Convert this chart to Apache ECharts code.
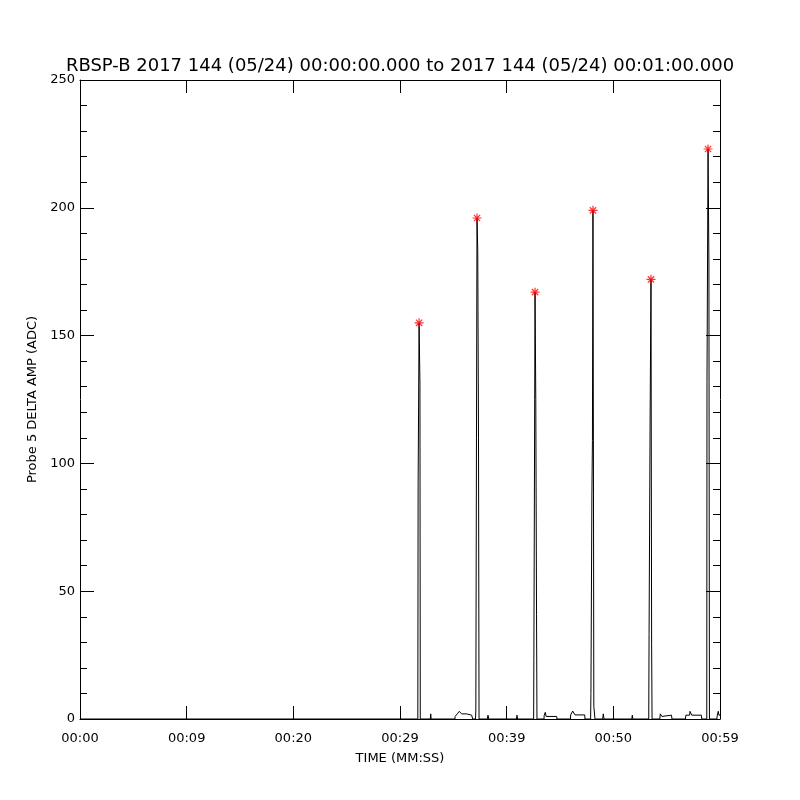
<!DOCTYPE html>
<html>
<head>
<meta charset="utf-8">
<script src="https://cdn.jsdelivr.net/npm/echarts@6/dist/echarts.min.js"></script>
<style>
html,body{margin:0;padding:0;background:#fff;}
#chart{width:800px;height:800px;}
</style>
</head>
<body>
<div id="chart"></div>
<script>
// time in seconds from 00:00:00, amplitude in ADC
const probeTime = [
  0, 31.67, 31.70, 31.79, 31.87, 31.90,
  32.84, 32.88, 32.92,
  35.15, 35.17, 35.37, 35.56, 35.78, 36.25, 36.41, 36.72, 36.81,
  37.08, 37.11, 37.22, 37.29, 37.36, 37.41,
  38.18, 38.25, 38.32,
  40.92, 40.97, 41.02,
  42.53, 42.55, 42.66, 42.73, 42.80, 42.84,
  43.50, 43.52, 43.62, 43.70, 44.69, 44.72,
  45.98, 46.00, 46.19, 46.41, 47.32, 47.34,
  47.87, 47.90, 47.99, 48.04, 48.09, 48.14, 48.17, 48.26, 48.28,
  49.00, 49.06, 49.12,
  51.73, 51.78, 51.83,
  53.32, 53.35, 53.45, 53.53, 53.59, 53.63,
  54.36, 54.40, 54.50, 54.55, 54.62, 55.45, 55.50,
  56.76, 56.80, 57.15, 57.19, 57.30, 57.35, 58.25, 58.30,
  58.76, 58.78, 58.88, 58.96, 59.01,
  59.70, 59.75, 59.84, 59.90, 60
];
const probeAmp = [
  0, 0, 92, 155, 131, 0,
  0, 2, 0,
  0, 1, 2, 3, 2, 2, 1.5, 1.5, 0,
  0, 3.5, 196, 183, 110, 0,
  0, 1.5, 0,
  0, 1.5, 0,
  0, 23, 167, 125, 41, 0,
  0, 1.5, 2.6, 1, 1, 0,
  0, 1.6, 3.1, 1.6, 1.6, 0,
  0, 10, 88, 109, 199, 88, 5, 5, 0,
  0, 2, 0,
  0, 1.5, 0,
  0, 33, 119, 172, 29, 0,
  0, 2, 2, 1, 1.5, 1.5, 0,
  0, 1.5, 1.5, 3, 3, 1.5, 1.5, 0,
  0, 132, 223, 178, 0,
  0, 1.5, 3, 1.5, 1.5
];
const peakTime = [31.79, 37.22, 42.66, 48.09, 53.53, 58.88];
const peakAmp = [155, 196, 167, 199, 172, 223];
const timeLabels = ['00:00', '00:09', '00:20', '00:29', '00:39', '00:50', '00:59'];

const font = 'DejaVu Sans';
const lineData = probeTime.map((t, i) => [t, probeAmp[i]]);
const peakData = peakTime.map((t, i) => [t, peakAmp[i]]);

const axisLine = { show: true, onZero: false, lineStyle: { color: '#000', width: 1 } };

const myChart = echarts.init(document.getElementById('chart'), null, { renderer: 'canvas' });
myChart.setOption({
  animation: false,
  backgroundColor: '#fff',
  title: {
    text: 'RBSP-B 2017 144 (05/24) 00:00:00.000 to 2017 144 (05/24) 00:01:00.000',
    left: 'center',
    top: 52,
    textStyle: { fontFamily: font, fontSize: 18, fontWeight: 'normal', color: '#000' }
  },
  grid: { left: 80, right: 80, top: 80, bottom: 81 },
  xAxis: [
    {
      type: 'value', min: 0, max: 60, interval: 10, position: 'bottom',
      axisLine: axisLine,
      axisTick: { inside: true, length: 13, lineStyle: { color: '#000' } },
      axisLabel: {
        color: '#000', fontFamily: font, fontSize: 13, margin: 13,
        formatter: v => timeLabels[Math.round(v / 10)]
      },
      splitLine: { show: false },
      name: 'TIME (MM:SS)', nameLocation: 'middle', nameGap: 33,
      nameTextStyle: { color: '#000', fontFamily: font, fontSize: 13 }
    },
    {
      type: 'value', min: 0, max: 60, interval: 10, position: 'top',
      axisLine: axisLine,
      axisTick: { inside: true, length: 13, lineStyle: { color: '#000' } },
      axisLabel: { show: false },
      splitLine: { show: false }
    }
  ],
  yAxis: [
    {
      type: 'value', min: 0, max: 250, interval: 50, position: 'left',
      axisLine: axisLine,
      axisTick: { inside: true, length: 14, lineStyle: { color: '#000' } },
      minorTick: { show: true, splitNumber: 5, length: 7, lineStyle: { color: '#000' } },
      axisLabel: { color: '#000', fontFamily: font, fontSize: 13, margin: 5 },
      splitLine: { show: false },
      name: 'Probe 5 DELTA AMP (ADC)', nameLocation: 'middle', nameGap: 40, nameRotate: 90,
      nameTextStyle: { color: '#000', fontFamily: font, fontSize: 13 }
    },
    {
      type: 'value', min: 0, max: 250, interval: 50, position: 'right',
      axisLine: axisLine,
      axisTick: { inside: true, length: 14, lineStyle: { color: '#000' } },
      minorTick: { show: true, splitNumber: 5, length: 7, lineStyle: { color: '#000' } },
      axisLabel: { show: false },
      splitLine: { show: false }
    }
  ],
  series: [
    {
      name: 'amp', type: 'line', data: lineData,
      showSymbol: false, symbol: 'none',
      lineStyle: { color: '#000', width: 1 },
      clip: true
    },
    {
      name: 'peaks', type: 'scatter', data: peakData,
      symbol: 'path://M5,0L5,10M0,5L10,5M1.5,1.5L8.5,8.5M1.5,8.5L8.5,1.5',
      symbolSize: 9,
      itemStyle: { color: 'transparent', borderColor: '#ff0000', borderWidth: 1.2 },
      z: 5
    }
  ]
});
</script>
</body>
</html>
